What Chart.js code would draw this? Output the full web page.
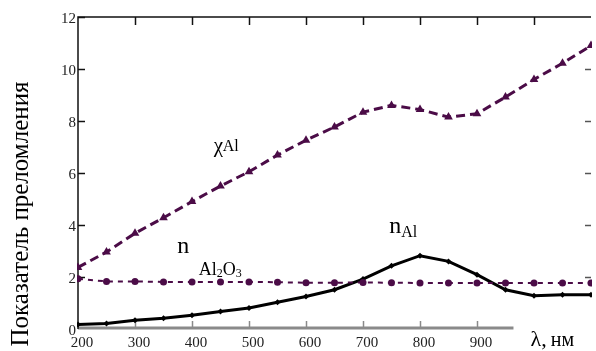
<!DOCTYPE html>
<html>
<head>
<meta charset="utf-8">
<script src="https://cdn.jsdelivr.net/npm/chart.js@4"></script>
<style>
  body { margin: 0; background: #fff; }
</style>
</head>
<body>
<canvas id="myChart" width="596" height="351"></canvas>
<script>
// wavelength, nm
const wavelengths = [200, 250, 300, 350, 400, 450, 500, 550, 600, 650, 700, 750, 800, 850, 900, 950, 1000, 1050, 1100];
// extinction coefficient of Al
const chiAl = [2.37, 2.96, 3.68, 4.28, 4.9, 5.5, 6.05, 6.69, 7.26, 7.77, 8.34, 8.6, 8.44, 8.15, 8.28, 8.92, 9.6, 10.22, 10.9];
// refractive index of Al2O3
const nAl2O3 = [1.93, 1.83, 1.83, 1.81, 1.81, 1.81, 1.81, 1.8, 1.78, 1.78, 1.79, 1.78, 1.77, 1.77, 1.77, 1.77, 1.77, 1.77, 1.77];
// refractive index of Al
const nAl = [0.17, 0.21, 0.34, 0.41, 0.53, 0.67, 0.81, 1.03, 1.25, 1.51, 1.92, 2.43, 2.82, 2.6, 2.09, 1.51, 1.28, 1.32, 1.32];

const xTicks = [200, 300, 400, 500, 600, 700, 800, 900];
const yTicks = [0, 2, 4, 6, 8, 10, 12];

const purple = '#4b0c47';
const serif = '"Liberation Serif", "DejaVu Serif", serif';

function toPoints(values) {
  return wavelengths.map((w, i) => ({ x: w, y: values[i] }));
}

// frame, ticks and hand-placed labels
const framePlugin = {
  id: 'frame',
  beforeDatasetsDraw(chart) {
    const ctx = chart.ctx;
    const area = chart.chartArea;
    const x = chart.scales.x;
    const y = chart.scales.y;
    ctx.save();
    // bottom axis (gray, stops before the lambda label)
    ctx.strokeStyle = '#8a8a8a';
    ctx.lineWidth = 3;
    ctx.beginPath();
    ctx.moveTo(area.left, area.bottom - 1);
    ctx.lineTo(x.getPixelForValue(964), area.bottom - 1);
    ctx.stroke();
    ctx.lineWidth = 1.5;
    xTicks.slice(1).forEach(t => {
      const px = Math.round(x.getPixelForValue(t)) + 0.5;
      ctx.beginPath();
      ctx.moveTo(px, area.bottom - 1);
      ctx.lineTo(px, area.bottom - 8);
      ctx.stroke();
    });
    // left axis and top border
    ctx.strokeStyle = '#111';
    ctx.lineWidth = 1.5;
    ctx.beginPath();
    ctx.moveTo(area.left, area.bottom);
    ctx.lineTo(area.left, area.top);
    ctx.lineTo(area.right, area.top);
    ctx.stroke();
    // top ticks
    for (let t = 300; t <= 1000; t += 100) {
      const px = Math.round(x.getPixelForValue(t)) + 0.5;
      ctx.beginPath();
      ctx.moveTo(px, area.top);
      ctx.lineTo(px, area.top + 8);
      ctx.stroke();
    }
    // left ticks
    yTicks.slice(1).forEach(t => {
      const py = Math.round(y.getPixelForValue(t)) + 0.5;
      ctx.beginPath();
      ctx.moveTo(area.left, py);
      ctx.lineTo(area.left + 7, py);
      ctx.stroke();
    });
    // right ticks
    ctx.strokeStyle = '#555';
    yTicks.slice(1, -1).forEach(t => {
      const py = Math.round(y.getPixelForValue(t)) + 0.5;
      ctx.beginPath();
      ctx.moveTo(area.right, py);
      ctx.lineTo(area.right - 6, py);
      ctx.stroke();
    });
    ctx.restore();
  },
  afterDraw(chart) {
    const ctx = chart.ctx;
    const x = chart.scales.x;
    const y = chart.scales.y;
    ctx.save();
    ctx.fillStyle = '#000';
    ctx.textBaseline = 'alphabetic';
    ctx.textAlign = 'left';

    // y axis title
    ctx.save();
    ctx.translate(28, 214);
    ctx.rotate(-Math.PI / 2);
    ctx.textAlign = 'center';
    ctx.font = '25px ' + serif;
    ctx.fillText('Показатель преломления', 0, 0);
    ctx.restore();

    // chi_Al
    let px = x.getPixelForValue(438);
    let py = y.getPixelForValue(6.8);
    ctx.font = '21px ' + serif;
    ctx.fillText('χ', px, py);
    ctx.font = '16px ' + serif;
    ctx.fillText('Al', px + ctx.measureText('χ').width + 2, py - 1);

    // n Al2O3
    px = x.getPixelForValue(374);
    py = y.getPixelForValue(2.93);
    ctx.font = '24px ' + serif;
    ctx.fillText('n', px, py);
    px = x.getPixelForValue(412);
    py = y.getPixelForValue(2.09);
    const parts = [['Al', 18, 0], ['2', 12, 2], ['O', 18, 0], ['3', 12, 2]];
    parts.forEach(p => {
      ctx.font = p[1] + 'px ' + serif;
      ctx.fillText(p[0], px, py + p[2]);
      px += ctx.measureText(p[0]).width;
    });

    // n_Al
    px = x.getPixelForValue(746);
    py = y.getPixelForValue(3.7);
    ctx.font = '24px ' + serif;
    ctx.fillText('n', px, py);
    px += ctx.measureText('n').width;
    ctx.font = '16px ' + serif;
    ctx.fillText('Al', px, y.getPixelForValue(3.54));

    // lambda, nm
    px = x.getPixelForValue(994);
    py = chart.chartArea.bottom + 17;
    ctx.font = '22px ' + serif;
    ctx.fillText('λ,', px, py);
    px += ctx.measureText('λ,').width + 4;
    ctx.font = '20px ' + serif;
    ctx.fillText('нм', px, py);
    ctx.restore();
  }
};

new Chart(document.getElementById('myChart'), {
  type: 'line',
  data: {
    datasets: [
      {
        label: 'n Al2O3',
        data: toPoints(nAl2O3),
        borderColor: purple,
        backgroundColor: purple,
        borderWidth: 2,
        borderDash: [5, 5],
        pointStyle: 'circle',
        pointRadius: 3.5,
        pointBorderWidth: 0,
        clip: 1
      },
      {
        label: 'χ Al',
        data: toPoints(chiAl),
        borderColor: purple,
        backgroundColor: purple,
        borderWidth: 3,
        borderDash: [9, 5],
        pointStyle: 'triangle',
        pointRadius: 5,
        pointBorderWidth: 0,
        clip: 1
      },
      {
        label: 'n Al',
        data: toPoints(nAl),
        borderColor: '#000',
        backgroundColor: '#000',
        borderWidth: 3,
        pointStyle: 'rectRot',
        pointRadius: 3,
        pointBorderWidth: 0,
        clip: 1
      }
    ]
  },
  options: {
    responsive: false,
    animation: false,
    devicePixelRatio: 1,
    layout: { padding: { top: 17, right: 0, bottom: 0, left: 0 } },
    plugins: {
      legend: { display: false },
      tooltip: { enabled: false }
    },
    scales: {
      x: {
        type: 'linear',
        min: 200,
        max: 1100,
        grid: { display: false, drawTicks: false },
        border: { display: false },
        afterFit(scale) { scale.height = 22; },
        afterBuildTicks(scale) { scale.ticks = xTicks.map(v => ({ value: v })); },
        ticks: {
          autoSkip: false,
          maxRotation: 0,
          padding: 5,
          labelOffset: 4,
          color: '#222',
          font: { family: serif, size: 15 }
        }
      },
      y: {
        min: 0,
        max: 12,
        grid: { display: false, drawTicks: false },
        border: { display: false },
        afterFit(scale) { scale.width = 78; },
        ticks: {
          stepSize: 2,
          padding: 2,
          labelOffset: 2,
          color: '#222',
          font: { family: serif, size: 15 }
        }
      }
    }
  },
  plugins: [framePlugin]
});
</script>
</body>
</html>
